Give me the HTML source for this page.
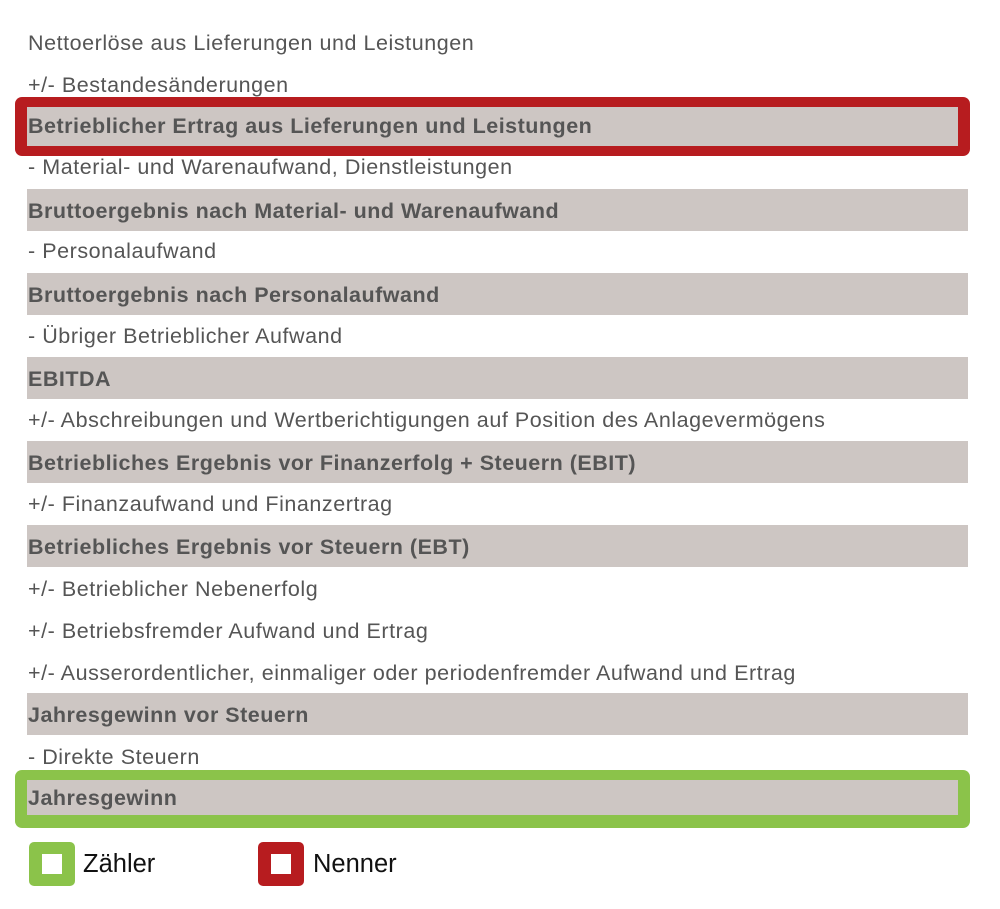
<!DOCTYPE html>
<html><head><meta charset="utf-8"><style>
body{margin:0;width:1000px;height:909px;background:#fff;position:relative;overflow:hidden;font-family:"Liberation Sans",sans-serif;}
.r{position:absolute;left:27px;width:941px;height:42px;line-height:44px;font-size:21.5px;letter-spacing:0.55px;color:#555;padding-left:1px;box-sizing:border-box;white-space:nowrap;}
.b{background:#cdc6c3;font-weight:bold;letter-spacing:0.5px;}
.box{position:absolute;left:15px;width:955px;border-radius:7px;box-sizing:border-box;}
.sq{position:absolute;width:46px;height:44px;border-radius:5px;}
.sq i{position:absolute;left:13px;top:12px;width:20px;height:20px;background:#fff;}
.lg{position:absolute;font-size:25.5px;color:#111;line-height:44px;top:842px;}
</style></head><body>
<div class="box" style="top:97px;height:59px;background:#b71c1f;"></div>
<div class="box" style="top:770px;height:58px;background:#8bc34a;"></div>
<div class="r" style="top:21px">Nettoerlöse aus Lieferungen und Leistungen</div>
<div class="r" style="top:63px">+/- Bestandesänderungen</div>
<div class="r b" style="top:107px;height:39px;line-height:39px;width:931px">Betrieblicher Ertrag aus Lieferungen und Leistungen</div>
<div class="r" style="top:145px">- Material- und Warenaufwand, Dienstleistungen</div>
<div class="r b" style="top:189px">Bruttoergebnis nach Material- und Warenaufwand</div>
<div class="r" style="top:229px">- Personalaufwand</div>
<div class="r b" style="top:273px">Bruttoergebnis nach Personalaufwand</div>
<div class="r" style="top:314px">- Übriger Betrieblicher Aufwand</div>
<div class="r b" style="top:357px">EBITDA</div>
<div class="r" style="top:398px">+/- Abschreibungen und Wertberichtigungen auf Position des Anlagevermögens</div>
<div class="r b" style="top:441px">Betriebliches Ergebnis vor Finanzerfolg + Steuern (EBIT)</div>
<div class="r" style="top:482px">+/- Finanzaufwand und Finanzertrag</div>
<div class="r b" style="top:525px">Betriebliches Ergebnis vor Steuern (EBT)</div>
<div class="r" style="top:567px">+/- Betrieblicher Nebenerfolg</div>
<div class="r" style="top:609px">+/- Betriebsfremder Aufwand und Ertrag</div>
<div class="r" style="top:651px">+/- Ausserordentlicher, einmaliger oder periodenfremder Aufwand und Ertrag</div>
<div class="r b" style="top:693px">Jahresgewinn vor Steuern</div>
<div class="r" style="top:735px">- Direkte Steuern</div>
<div class="r b" style="top:780px;height:35px;line-height:37px;width:931px">Jahresgewinn</div>
<div class="sq" style="left:29px;top:842px;background:#8bc34a"><i></i></div>
<div class="lg" style="left:83px">Zähler</div>
<div class="sq" style="left:258px;top:842px;background:#b71c1f"><i></i></div>
<div class="lg" style="left:313px">Nenner</div>
</body></html>
